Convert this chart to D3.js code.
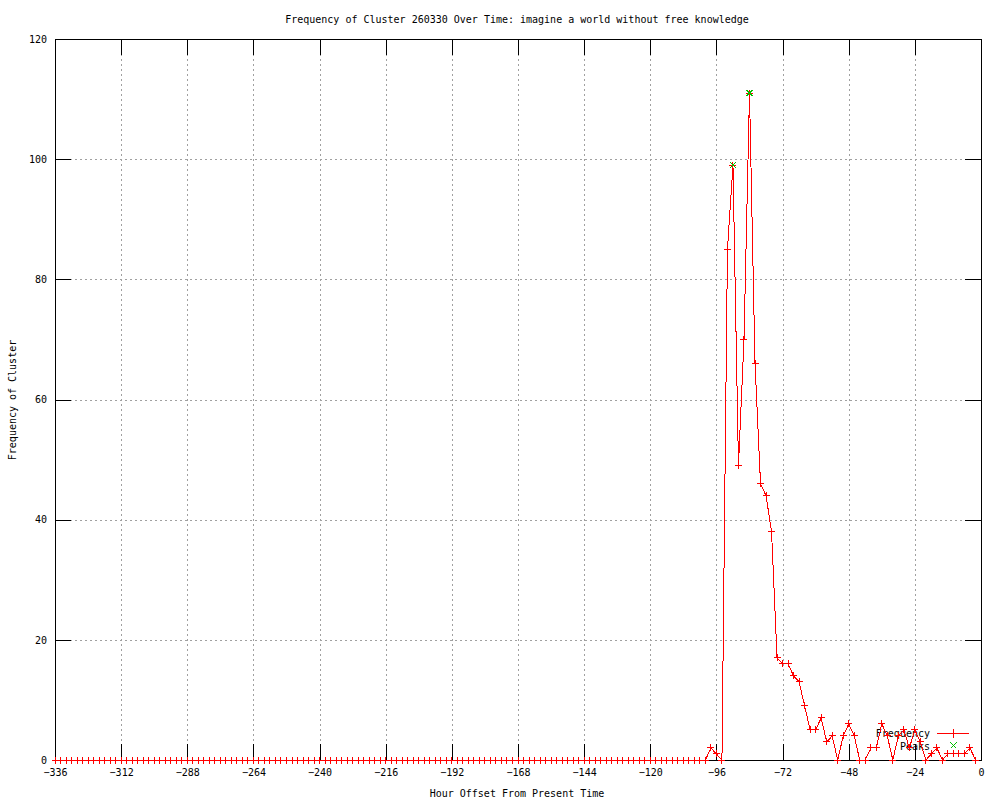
<!DOCTYPE html>
<html>
<head>
<meta charset="utf-8">
<script src="https://cdn.jsdelivr.net/npm/d3@7"></script>
<style>
body { margin: 0; background: #fff; }
text { font-family: "DejaVu Sans Mono", monospace; font-size: 10px; fill: #000; }
</style>
</head>
<body>
<svg width="1000" height="800"></svg>
<script>
// hour offsets (every 2 hours) and the cluster frequency at each
var hours = [
  -336,-334,-332,-330,-328,-326,-324,-322,-320,-318,-316,-314,
  -312,-310,-308,-306,-304,-302,-300,-298,-296,-294,-292,-290,
  -288,-286,-284,-282,-280,-278,-276,-274,-272,-270,-268,-266,
  -264,-262,-260,-258,-256,-254,-252,-250,-248,-246,-244,-242,
  -240,-238,-236,-234,-232,-230,-228,-226,-224,-222,-220,-218,
  -216,-214,-212,-210,-208,-206,-204,-202,-200,-198,-196,-194,
  -192,-190,-188,-186,-184,-182,-180,-178,-176,-174,-172,-170,
  -168,-166,-164,-162,-160,-158,-156,-154,-152,-150,-148,-146,
  -144,-142,-140,-138,-136,-134,-132,-130,-128,-126,-124,-122,
  -120,-118,-116,-114,-112,-110,-108,-106,-104,-102,-100,-98,
  -96,-94,-92,-90,-88,-86,-84,-82,-80,-78,-76,-74,
  -72,-70,-68,-66,-64,-62,-60,-58,-56,-54,-52,-50,
  -48,-46,-44,-42,-40,-38,-36,-34,-32,-30,-28,-26,
  -24,-22,-20,-18,-16,-14,-12,-10,-8,-6,-4,-2
];
var frequency = [
  0,0,0,0,0,0,0,0,0,0,0,0,
  0,0,0,0,0,0,0,0,0,0,0,0,
  0,0,0,0,0,0,0,0,0,0,0,0,
  0,0,0,0,0,0,0,0,0,0,0,0,
  0,0,0,0,0,0,0,0,0,0,0,0,
  0,0,0,0,0,0,0,0,0,0,0,0,
  0,0,0,0,0,0,0,0,0,0,0,0,
  0,0,0,0,0,0,0,0,0,0,0,0,
  0,0,0,0,0,0,0,0,0,0,0,0,
  0,0,0,0,0,0,0,0,0,0,0,2,
  1,0,85,99,49,70,111,66,46,44,38,17,
  16,16,14,13,9,5,5,7,3,4,0,4,
  6,4,0,0,2,2,6,4,0,4,5,2,
  5,3,0,1,2,0,1,1,1,1,2,0
];
var peakHours = [-90, -84];
var peakValues = [99, 111];

var xTicks = [-336,-312,-288,-264,-240,-216,-192,-168,-144,-120,-96,-72,-48,-24,0];
var yTicks = [0,20,40,60,80,100,120];

var svg = d3.select("svg"),
    mLeft = 55, mRight = 981, mTop = 39, mBottom = 760;

var x = d3.scaleLinear().domain([-336, 0]).range([mLeft, mRight]);
var y = d3.scaleLinear().domain([0, 120]).range([mBottom, mTop]);

var data = hours.map(function(h, i) { return {h: h, v: frequency[i]}; });
var peaks = peakHours.map(function(h, i) { return {h: h, v: peakValues[i]}; });

// grid
var grid = svg.append("g")
    .attr("stroke", "#a0a0a0")
    .attr("stroke-dasharray", "2,3")
    .attr("shape-rendering", "crispEdges");
grid.selectAll("line.gx")
    .data(xTicks.filter(function(d) { return d > -336 && d < 0; }))
  .enter().append("line")
    .attr("x1", function(d) { return Math.round(x(d)) + 0.5; })
    .attr("x2", function(d) { return Math.round(x(d)) + 0.5; })
    .attr("y1", mTop).attr("y2", mBottom);
grid.selectAll("line.gy")
    .data(yTicks.filter(function(d) { return d > 0 && d < 120; }))
  .enter().append("line")
    .attr("y1", function(d) { return Math.round(y(d)) + 0.5; })
    .attr("y2", function(d) { return Math.round(y(d)) + 0.5; })
    .attr("x1", mLeft).attr("x2", mRight);

// axes with inward ticks on all four sides
function styleAxis(g) {
  g.select(".domain").remove();
  g.selectAll(".tick line").attr("stroke", "#000").attr("shape-rendering", "crispEdges");
  g.selectAll("text").attr("font-family", "DejaVu Sans Mono, monospace").attr("font-size", 10).attr("fill", "#000");
}

svg.append("g")
    .attr("transform", "translate(0," + mBottom + ")")
    .call(d3.axisBottom(x).tickValues(xTicks).tickSize(-16).tickPadding(9).tickFormat(d3.format("d")))
    .call(styleAxis);
svg.append("g")
    .attr("transform", "translate(0," + mTop + ")")
    .call(d3.axisTop(x).tickValues(xTicks).tickSize(-16).tickFormat(""))
    .call(styleAxis);
svg.append("g")
    .attr("transform", "translate(" + mLeft + ",0)")
    .call(d3.axisLeft(y).tickValues(yTicks).tickSize(-16).tickPadding(8))
    .call(styleAxis);
svg.append("g")
    .attr("transform", "translate(" + mRight + ",0)")
    .call(d3.axisRight(y).tickValues(yTicks).tickSize(-16).tickFormat(""))
    .call(styleAxis);

svg.append("rect")
    .attr("x", mLeft + 0.5).attr("y", mTop + 0.5)
    .attr("width", mRight - mLeft).attr("height", mBottom - mTop)
    .attr("fill", "none").attr("stroke", "#000")
    .attr("shape-rendering", "crispEdges");

// titles
svg.append("text")
    .attr("x", 517).attr("y", 23)
    .attr("text-anchor", "middle")
    .text("Frequency of Cluster 260330 Over Time: imagine a world without free knowledge");
svg.append("text")
    .attr("x", 517).attr("y", 797)
    .attr("text-anchor", "middle")
    .text("Hour Offset From Present Time");
svg.append("text")
    .attr("transform", "translate(16,400) rotate(-90)")
    .attr("text-anchor", "middle")
    .text("Frequency of Cluster");

// legend (drawn under the data, as in the original)
var plus = "M-3.5,0H3.5M0,-3.5V3.5";
var cross = "M-3,-3L3,3M-3,3L3,-3";

var legend = svg.append("g");
legend.append("text")
    .attr("x", 930).attr("y", 737)
    .attr("text-anchor", "end")
    .text("Frequency");
legend.append("rect")
    .attr("x", 937).attr("y", 733)
    .attr("width", 32).attr("height", 1)
    .attr("fill", "#ff0000");
legend.append("rect")
    .attr("x", 953).attr("y", 729)
    .attr("width", 1).attr("height", 9)
    .attr("fill", "#ff0000");
legend.append("text")
    .attr("x", 930).attr("y", 750)
    .attr("text-anchor", "end")
    .text("Peaks");
legend.append("path")
    .attr("transform", "translate(953.5,745.5)")
    .attr("d", cross)
    .attr("stroke", "#00c000")
    .attr("fill", "none")
    .attr("shape-rendering", "crispEdges");

// frequency line
var line = d3.line()
    .x(function(d) { return x(d.h); })
    .y(function(d) { return y(d.v); });

svg.append("path")
    .datum(data)
    .attr("d", line)
    .attr("fill", "none")
    .attr("stroke", "#ff0000")
    .attr("stroke-width", 1)
    .attr("shape-rendering", "crispEdges");

svg.selectAll("path.pt")
    .data(data)
  .enter().append("path")
    .attr("class", "pt")
    .attr("transform", function(d) { return "translate(" + x(d.h) + "," + y(d.v) + ")"; })
    .attr("d", plus)
    .attr("stroke", "#ff0000")
    .attr("fill", "none")
    .attr("shape-rendering", "crispEdges");

svg.selectAll("path.pk")
    .data(peaks)
  .enter().append("path")
    .attr("class", "pk")
    .attr("transform", function(d) { return "translate(" + x(d.h) + "," + y(d.v) + ")"; })
    .attr("d", cross)
    .attr("stroke", "#00c000")
    .attr("fill", "none")
    .attr("shape-rendering", "crispEdges");
</script>
</body>
</html>
